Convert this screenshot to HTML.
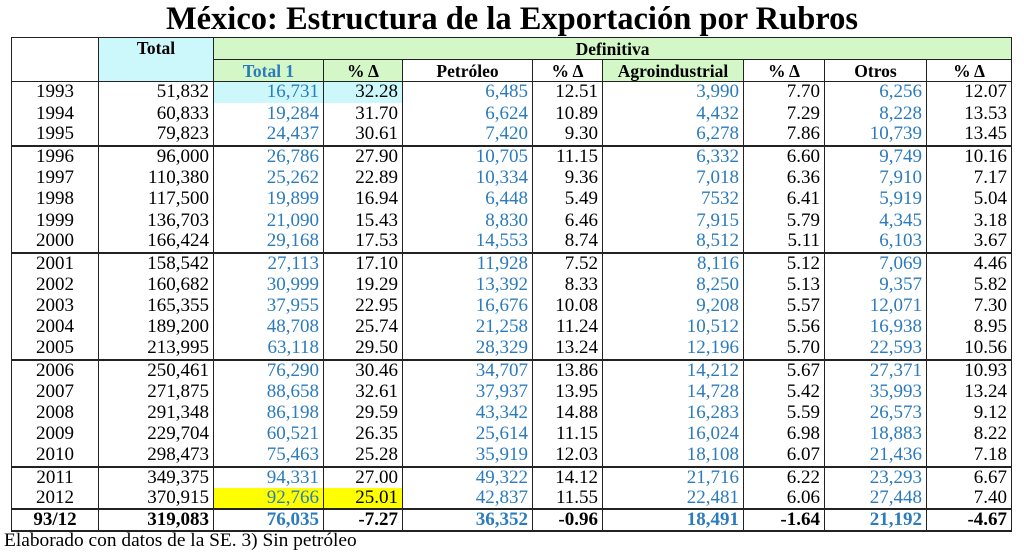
<!DOCTYPE html>
<html><head><meta charset="utf-8"><style>
body{margin:0;background:#fff;width:1024px;height:557px;overflow:hidden;font-family:"Liberation Serif",serif;}
.t{position:absolute;left:0;top:0;width:1024px;text-align:center;font-weight:bold;font-size:32.5px;line-height:38px;}
table{position:absolute;left:11px;top:37px;border-collapse:collapse;table-layout:fixed;width:1000px;}
td{border-left:1.5px solid #222;border-right:1.5px solid #222;padding:0 4px;font-size:19px;text-align:right;height:21.4px;line-height:20px;box-sizing:border-box;white-space:nowrap;overflow:hidden;}
td.y{text-align:center;}
.b{color:#2b7bbd;}
tr.g td{border-bottom:2px solid #222;}
tr.h td{text-align:center;font-weight:bold;font-size:17.5px;border:1.5px solid #222;height:22px;padding:0;}
.gr{background:#d3f7c6;}
.cy{background:#ccf8fc;}
.ye{background:#ffff00;}
tr.last td{font-weight:bold;border-bottom:2px solid #222;border-top:2px solid #222;}
.f{position:absolute;left:4px;top:530px;font-size:19.4px;}
</style></head><body>
<div class="t">México: Estructura de la Exportación por Rubros</div>
<table>
<colgroup><col style="width:87px"><col style="width:115px"><col style="width:110px"><col style="width:79px"><col style="width:130px"><col style="width:70px"><col style="width:141px"><col style="width:81px"><col style="width:102px"><col style="width:85px"></colgroup>
<tr class="h"><td style="border-bottom:none"></td><td class="cy" style="border-bottom:none;vertical-align:top">Total</td><td class="gr" colspan="8">Definitiva</td></tr>
<tr class="h"><td style="border-top:none"></td><td class="cy" style="border-top:none"></td><td class="gr b">Total 1</td><td class="gr">% Δ</td><td>Petróleo</td><td>% Δ</td><td class="gr">Agroindustrial</td><td>% Δ</td><td>Otros</td><td>% Δ</td></tr>
<tr><td class="y">1993</td><td>51,832</td><td class="b cy">16,731</td><td class="cy">32.28</td><td class="b">6,485</td><td>12.51</td><td class="b">3,990</td><td>7.70</td><td class="b">6,256</td><td>12.07</td></tr>
<tr><td class="y">1994</td><td>60,833</td><td class="b">19,284</td><td>31.70</td><td class="b">6,624</td><td>10.89</td><td class="b">4,432</td><td>7.29</td><td class="b">8,228</td><td>13.53</td></tr>
<tr class="g"><td class="y">1995</td><td>79,823</td><td class="b">24,437</td><td>30.61</td><td class="b">7,420</td><td>9.30</td><td class="b">6,278</td><td>7.86</td><td class="b">10,739</td><td>13.45</td></tr>
<tr><td class="y">1996</td><td>96,000</td><td class="b">26,786</td><td>27.90</td><td class="b">10,705</td><td>11.15</td><td class="b">6,332</td><td>6.60</td><td class="b">9,749</td><td>10.16</td></tr>
<tr><td class="y">1997</td><td>110,380</td><td class="b">25,262</td><td>22.89</td><td class="b">10,334</td><td>9.36</td><td class="b">7,018</td><td>6.36</td><td class="b">7,910</td><td>7.17</td></tr>
<tr><td class="y">1998</td><td>117,500</td><td class="b">19,899</td><td>16.94</td><td class="b">6,448</td><td>5.49</td><td class="b">7532</td><td>6.41</td><td class="b">5,919</td><td>5.04</td></tr>
<tr><td class="y">1999</td><td>136,703</td><td class="b">21,090</td><td>15.43</td><td class="b">8,830</td><td>6.46</td><td class="b">7,915</td><td>5.79</td><td class="b">4,345</td><td>3.18</td></tr>
<tr class="g"><td class="y">2000</td><td>166,424</td><td class="b">29,168</td><td>17.53</td><td class="b">14,553</td><td>8.74</td><td class="b">8,512</td><td>5.11</td><td class="b">6,103</td><td>3.67</td></tr>
<tr><td class="y">2001</td><td>158,542</td><td class="b">27,113</td><td>17.10</td><td class="b">11,928</td><td>7.52</td><td class="b">8,116</td><td>5.12</td><td class="b">7,069</td><td>4.46</td></tr>
<tr><td class="y">2002</td><td>160,682</td><td class="b">30,999</td><td>19.29</td><td class="b">13,392</td><td>8.33</td><td class="b">8,250</td><td>5.13</td><td class="b">9,357</td><td>5.82</td></tr>
<tr><td class="y">2003</td><td>165,355</td><td class="b">37,955</td><td>22.95</td><td class="b">16,676</td><td>10.08</td><td class="b">9,208</td><td>5.57</td><td class="b">12,071</td><td>7.30</td></tr>
<tr><td class="y">2004</td><td>189,200</td><td class="b">48,708</td><td>25.74</td><td class="b">21,258</td><td>11.24</td><td class="b">10,512</td><td>5.56</td><td class="b">16,938</td><td>8.95</td></tr>
<tr class="g"><td class="y">2005</td><td>213,995</td><td class="b">63,118</td><td>29.50</td><td class="b">28,329</td><td>13.24</td><td class="b">12,196</td><td>5.70</td><td class="b">22,593</td><td>10.56</td></tr>
<tr><td class="y">2006</td><td>250,461</td><td class="b">76,290</td><td>30.46</td><td class="b">34,707</td><td>13.86</td><td class="b">14,212</td><td>5.67</td><td class="b">27,371</td><td>10.93</td></tr>
<tr><td class="y">2007</td><td>271,875</td><td class="b">88,658</td><td>32.61</td><td class="b">37,937</td><td>13.95</td><td class="b">14,728</td><td>5.42</td><td class="b">35,993</td><td>13.24</td></tr>
<tr><td class="y">2008</td><td>291,348</td><td class="b">86,198</td><td>29.59</td><td class="b">43,342</td><td>14.88</td><td class="b">16,283</td><td>5.59</td><td class="b">26,573</td><td>9.12</td></tr>
<tr><td class="y">2009</td><td>229,704</td><td class="b">60,521</td><td>26.35</td><td class="b">25,614</td><td>11.15</td><td class="b">16,024</td><td>6.98</td><td class="b">18,883</td><td>8.22</td></tr>
<tr class="g"><td class="y">2010</td><td>298,473</td><td class="b">75,463</td><td>25.28</td><td class="b">35,919</td><td>12.03</td><td class="b">18,108</td><td>6.07</td><td class="b">21,436</td><td>7.18</td></tr>
<tr><td class="y">2011</td><td>349,375</td><td class="b">94,331</td><td>27.00</td><td class="b">49,322</td><td>14.12</td><td class="b">21,716</td><td>6.22</td><td class="b">23,293</td><td>6.67</td></tr>
<tr><td class="y">2012</td><td>370,915</td><td class="b ye">92,766</td><td class="ye">25.01</td><td class="b">42,837</td><td>11.55</td><td class="b">22,481</td><td>6.06</td><td class="b">27,448</td><td>7.40</td></tr>
<tr class="last"><td class="y">93/12</td><td>319,083</td><td class="b">76,035</td><td>-7.27</td><td class="b">36,352</td><td>-0.96</td><td class="b">18,491</td><td>-1.64</td><td class="b">21,192</td><td>-4.67</td></tr>
</table>
<div class="f">Elaborado con datos de la SE. 3) Sin petróleo</div>
</body></html>
